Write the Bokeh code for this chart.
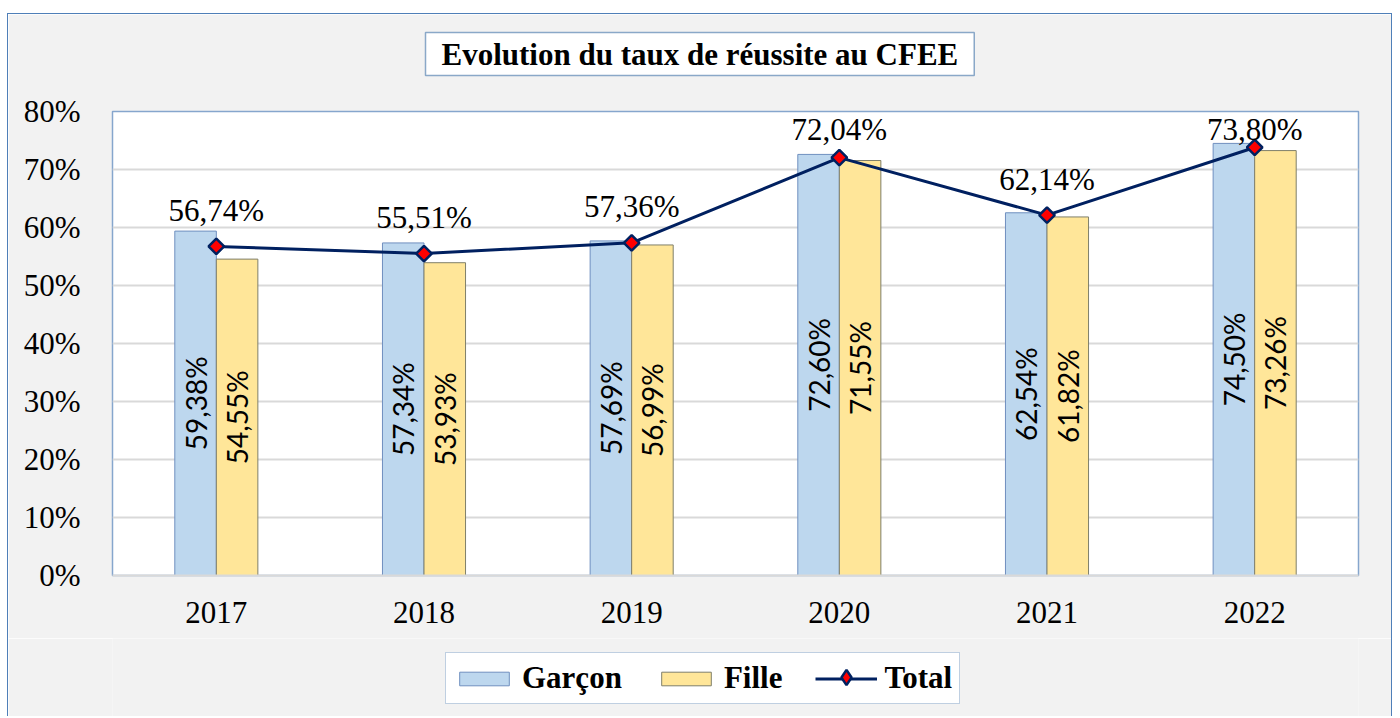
import numpy as np
from bokeh.plotting import figure
from bokeh.models import (ColumnDataSource, FactorRange, Range1d, FixedTicker,
                          PrintfTickFormatter, Legend, LegendItem, Title, Spacer)
from bokeh.transform import dodge
from bokeh.layouts import column, row
from bokeh.core.properties import value
from bokeh.embed import file_html
from bokeh.resources import INLINE

# ---- data ----
years = ["2017", "2018", "2019", "2020", "2021", "2022"]
garcon = [59.38, 57.34, 57.69, 72.60, 62.54, 74.50]
fille = [54.55, 53.93, 56.99, 71.55, 61.82, 73.26]
total = [56.74, 55.51, 57.36, 72.04, 62.14, 73.80]
y_ticks = [0, 10, 20, 30, 40, 50, 60, 70, 80]
title_text = "Evolution du taux de réussite au CFEE"
series_names = ["Garçon", "Fille", "Total"]


def fr(v):
    return f"{v:.2f}".replace(".", ",") + "%"


src = ColumnDataSource(dict(
    year=years,
    garcon=garcon,
    fille=fille,
    total=total,
    garcon_mid=[v / 2 for v in garcon],
    fille_mid=[v / 2 for v in fille],
    garcon_lbl=[fr(v) for v in garcon],
    fille_lbl=[fr(v) for v in fille],
    total_lbl=[fr(v) for v in total],
    # labels kept inside the plot area (like the spreadsheet does)
    total_lbl_y=[min(t, 70.7) for t in total],
))

SERIF = "Liberation Serif"
SANS = "Lato"
BG = "#f2f2f2"
FRAME = "1px solid #4f7fb8"

GARCON_STYLE = dict(fill_color="#bdd7ee", line_color="#6f8fbf", line_width=1)
FILLE_STYLE = dict(fill_color="#ffe699", line_color="#7f7f6a", line_width=1)
LINE_STYLE = dict(line_color="#002060", line_width=3)
MARK_COLORS = dict(fill_color="#ff0000", line_color="#002060", line_width=2.5)

x_range = FactorRange(*years)
y_range = Range1d(0, 80)

p = figure(x_range=x_range, y_range=y_range,
           width=1385, height=625, output_backend="svg", toolbar_location=None,
           min_border_left=104, min_border_right=35, min_border_top=97,
           min_border_bottom=64)
p.styles = {"border-left": FRAME, "border-top": FRAME, "border-right": FRAME}

p.background_fill_color = "white"
p.border_fill_color = BG
p.outline_line_color = "#86a6cd"
p.outline_line_width = 1.5

# grid
p.xgrid.grid_line_color = None
p.ygrid.grid_line_color = "#d9d9d9"
p.ygrid.grid_line_width = 2
p.yaxis.ticker = FixedTicker(ticks=y_ticks)
p.yaxis.formatter = PrintfTickFormatter(format="%d%%")

for ax in (p.xaxis[0], p.yaxis[0]):
    ax.major_tick_line_color = None
    ax.minor_tick_line_color = None
    ax.major_label_text_font = SERIF
    ax.major_label_text_font_size = "31px"
    ax.major_label_text_color = "black"
p.yaxis.axis_line_color = None
p.yaxis.major_label_standoff = 26
p.xaxis.axis_line_color = "#d9d9d9"
p.xaxis.axis_line_width = 2
p.xaxis.major_label_standoff = 20

# bars
p.vbar(x=dodge("year", -0.1, range=x_range), top="garcon", width=0.2,
       source=src, **GARCON_STYLE)
p.vbar(x=dodge("year", 0.1, range=x_range), top="fille", width=0.2,
       source=src, **FILLE_STYLE)

# rotated bar labels
p.text(x=dodge("year", -0.1, range=x_range), y="garcon_mid", text="garcon_lbl",
       source=src, angle=np.pi / 2, text_align="center", text_baseline="middle",
       text_font=value(SANS), text_font_size="28px", text_color="black")
p.text(x=dodge("year", 0.1, range=x_range), y="fille_mid", text="fille_lbl",
       source=src, angle=np.pi / 2, text_align="center", text_baseline="middle",
       text_font=value(SANS), text_font_size="28px", text_color="black")

# total line
p.line(x="year", y="total", source=src, **LINE_STYLE)
p.scatter(x="year", y="total", source=src, marker="square", angle=np.pi / 4,
          size=11, **MARK_COLORS)
p.text(x="year", y="total_lbl_y", text="total_lbl", source=src,
       text_align="center", text_baseline="alphabetic", y_offset=-36,
       text_font=value(SERIF), text_font_size="31px", text_color="black")

# title box; a blank title added afterwards sits nearest the frame as a gap
p.title = Title(text=title_text, align="left", offset=313, text_font=SERIF,
                text_font_size="31px", text_font_style="bold", text_color="black",
                background_fill_color="white", border_line_color="#8aa8c8",
                border_line_width=1.5, padding=(16, 4), standoff=0,
                vertical_align="bottom")
p.add_layout(Title(text=" ", text_font_size="12px", standoff=20,
                   background_fill_color=None, border_line_color=None), "above")

# ---- legend strip (same frame, below the chart) ----
leg = figure(width=1385, height=78, x_range=x_range, y_range=y_range,
             output_backend="svg", toolbar_location=None,
             x_axis_location=None, y_axis_location=None, min_border=0)
leg.styles = {"border-left": FRAME, "border-right": FRAME}
leg.background_fill_color = BG
leg.border_fill_color = BG
leg.outline_line_color = None
leg.grid.visible = False
# hidden copies of the series: they only supply the legend swatches
lg = leg.vbar(x=dodge("year", -0.1, range=x_range), top="garcon", width=0.2,
              source=src, visible=False, **GARCON_STYLE)
lf = leg.vbar(x=dodge("year", 0.1, range=x_range), top="fille", width=0.2,
              source=src, visible=False, **FILLE_STYLE)
ll = leg.line(x="year", y="total", source=src, visible=False, **LINE_STYLE)
lm = leg.scatter(x="year", y="total", source=src, visible=False, marker="diamond",
                 **MARK_COLORS)

legend = Legend(items=[
    LegendItem(label=series_names[0], renderers=[lg]),
    LegendItem(label=series_names[1], renderers=[lf]),
    LegendItem(label=series_names[2], renderers=[ll]),
], location=(333, 12), orientation="horizontal")
legend.glyph_width = 62
legend.glyph_height = 17
legend.label_standoff = 7
legend.spacing = 33
legend.padding = 7
legend.margin = 0
legend.inactive_fill_alpha = 0
legend.label_text_font = SERIF
legend.label_text_font_size = "31px"
legend.label_text_font_style = "bold"
legend.label_text_color = "black"
legend.border_line_color = "#7f9fc4"
legend.border_line_width = 1.5
legend.background_fill_color = "white"
leg.add_layout(legend)

# full-size marker swatch laid over the centre of the Total line swatch
mark_legend = Legend(items=[LegendItem(label=" ", renderers=[lm])],
                     location=(715, 20), orientation="horizontal")
mark_legend.glyph_width = 38
mark_legend.glyph_height = 38
mark_legend.label_standoff = 0
mark_legend.label_width = 0
mark_legend.label_height = 0
mark_legend.padding = 0
mark_legend.margin = 0
mark_legend.spacing = 0
mark_legend.inactive_fill_alpha = 0
mark_legend.label_text_font_size = "1px"
mark_legend.border_line_color = None
mark_legend.background_fill_alpha = 0
leg.add_layout(mark_legend)

layout = column(Spacer(height=13, width=1392),
                row(Spacer(width=7, height=703), column(p, leg)))
open("out.html", "w").write(file_html(layout, INLINE))
